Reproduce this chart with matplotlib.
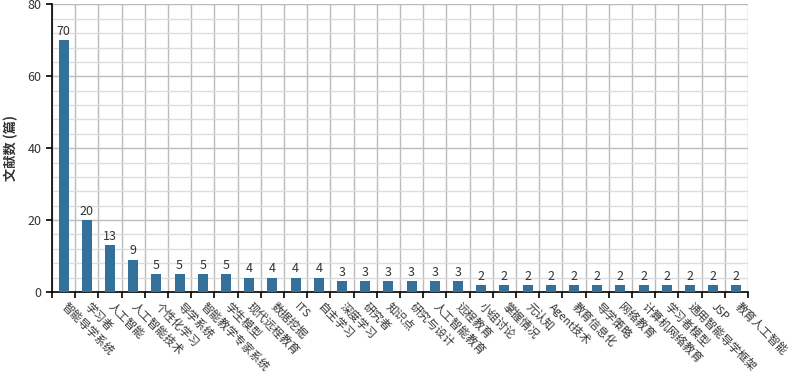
import numpy as np
import matplotlib
matplotlib.use('Agg')
import matplotlib.pyplot as plt
from matplotlib.ticker import MultipleLocator

plt.rcParams['font.family'] = ['Noto Sans CJK SC', 'DejaVu Sans']

# 关键词与文献数
keywords = ['智能导学系统', '学习者', '人工智能', '人工智能技术', '个性化学习', '导学系统',
            '智能教学专家系统', '学生模型', '现代远程教育', '数据挖掘', 'ITS', '自主学习',
            '深度学习', '研究者', '知识点', '研究与设计', '人工智能教育', '远程教育',
            '小组讨论', '掌握情况', '元认知', 'Agent技术', '教育信息化', '导学策略',
            '网络教育', '计算机网络教育', '学习者模型', '通用智能导学框架', 'JSP', '教育人工智能']
counts = [70, 20, 13, 9, 5, 5, 5, 5, 4, 4, 4, 4, 3, 3, 3, 3, 3, 3,
          2, 2, 2, 2, 2, 2, 2, 2, 2, 2, 2, 2]
y_max = 80

fig = plt.figure(figsize=(8.01, 3.73), dpi=100)
ax = fig.add_axes([0.0649, 0.2172, 0.869, 0.7708])

x = np.arange(len(keywords))
ax.bar(x, counts, width=0.43, color='#33709a', zorder=3)

for xi, c in zip(x, counts):
    ax.text(xi, c + 0.6, str(c), ha='center', va='bottom', fontsize=9, color='#333333', zorder=4)

ax.set_xlim(-0.5, len(keywords) - 0.5)
ax.set_ylim(0, y_max)

# 类别边界刻度与网格
ax.set_xticks(np.arange(-0.5, len(keywords) + 0.5, 1))
ax.set_xticklabels([])
ax.tick_params(axis='x', length=4, width=1.2, color='black')
ax.xaxis.grid(True, color='#bbbbbb', linewidth=1, zorder=0)

ax.yaxis.set_major_locator(MultipleLocator(20))
ax.yaxis.set_minor_locator(MultipleLocator(4))
ax.yaxis.grid(True, which='major', color='#bbbbbb', linewidth=1, zorder=0)
ax.yaxis.grid(True, which='minor', color='#dddddd', linewidth=1, zorder=0)
ax.tick_params(axis='y', which='major', length=4, width=1.2, labelsize=9, labelcolor='#333333')
ax.tick_params(axis='y', which='minor', length=0)

for xi, lab in zip(x, keywords):
    ax.text(xi, -3.6, lab, rotation=-45, rotation_mode='anchor', ha='left', va='center',
            fontsize=8.2, color='#333333', clip_on=False)

ax.set_ylabel('文献数 (篇)', fontsize=9.5, fontweight='bold', color='#333333')
ax.yaxis.set_label_coords(-0.049, 0.5)

for s in ['top', 'right']:
    ax.spines[s].set_visible(False)
ax.spines['left'].set_linewidth(1.2)
ax.spines['bottom'].set_linewidth(1.2)
ax.set_axisbelow(True)

fig.savefig('out.png', dpi=100)
